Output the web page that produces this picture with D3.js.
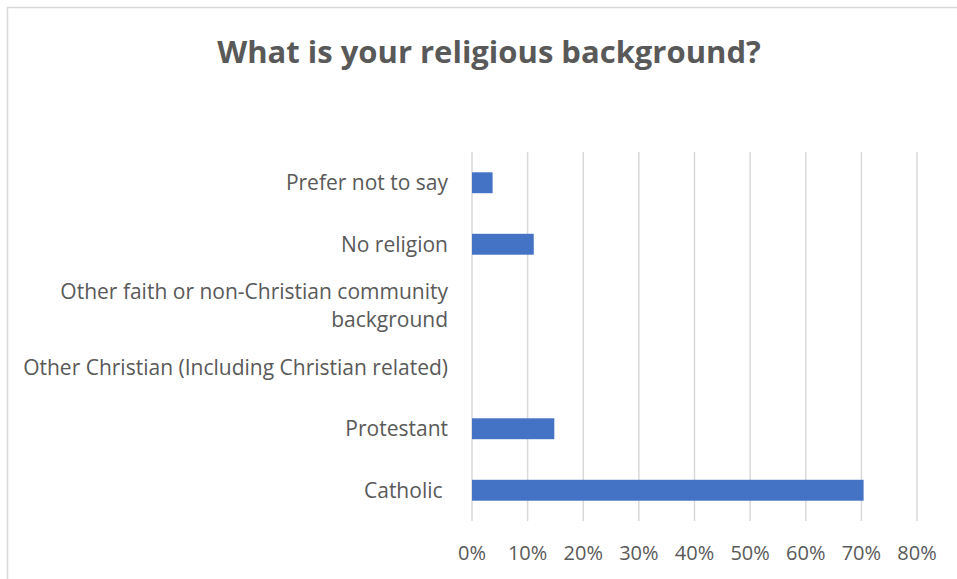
<!DOCTYPE html>
<html>
<head>
<meta charset="utf-8">
<script src="https://cdn.jsdelivr.net/npm/d3@7"></script>
<style>
  body { margin: 0; background: #fff; }
  text { font-family: "Open Sans", sans-serif; fill: #595959; }
</style>
</head>
<body>
<svg id="chart" width="957" height="579"></svg>
<script>
// survey answers, top of chart first
const categories = [
  "Prefer not to say",
  "No religion",
  "Other faith or non-Christian community background",
  "Other Christian (Including Christian related)",
  "Protestant",
  "Catholic "
];
const values = [0.037, 0.111, 0, 0, 0.148, 0.704];
const xTicks = [0, 0.1, 0.2, 0.3, 0.4, 0.5, 0.6, 0.7, 0.8];
const title = "What is your religious background?";

const svg = d3.select("#chart");

// outer chart border (cropped on right/bottom like the source)
svg.append("rect")
  .attr("x", 7.5).attr("y", 7.5)
  .attr("width", 980).attr("height", 600)
  .attr("fill", "none")
  .attr("stroke", "#d9d9d9")
  .attr("stroke-width", 1.5);

svg.append("text")
  .attr("x", 489).attr("y", 63)
  .attr("text-anchor", "middle")
  .style("font-size", "31px")
  .style("font-weight", "bold")
  .text(title);

const x = d3.scaleLinear().domain([0, 0.8]).range([472, 917]);
const y = d3.scaleBand()
  .domain(categories)
  .range([152, 521])
  .paddingInner(0.66)
  .paddingOuter(0.33);

// vertical gridlines
svg.append("g")
  .selectAll("line")
  .data(xTicks)
  .join("line")
  .attr("x1", d => x(d)).attr("x2", d => x(d))
  .attr("y1", 152).attr("y2", 521)
  .attr("stroke", "#d9d9d9")
  .attr("stroke-width", 1.5);

// x tick labels
svg.append("g")
  .selectAll("text")
  .data(xTicks)
  .join("text")
  .attr("x", d => x(d))
  .attr("y", 560)
  .attr("text-anchor", "middle")
  .style("font-size", "20px")
  .text(d3.format(".0%"));

// bars
svg.append("g")
  .selectAll("rect")
  .data(values)
  .join("rect")
  .attr("x", x(0))
  .attr("y", (d, i) => y(categories[i]))
  .attr("width", d => x(d) - x(0))
  .attr("height", y.bandwidth())
  .attr("fill", "#4472c4");

// category labels, wrapped when too long
const labelG = svg.append("g");
categories.forEach(c => {
  const cy = y(c) + y.bandwidth() / 2;
  const t = labelG.append("text")
    .attr("x", 448)
    .attr("text-anchor", "end")
    .style("white-space", "pre")
    .style("font-size", "21px");
  const words = c.split(" ");
  let lines = [], line = [];
  const probe = labelG.append("text").style("font-size", "21px");
  words.forEach(w => {
    line.push(w);
    probe.text(line.join(" "));
    if (probe.node().getComputedTextLength() > 440 && line.length > 1) {
      line.pop();
      lines.push(line.join(" "));
      line = [w];
    }
  });
  lines.push(line.join(" "));
  probe.remove();
  const lh = 28;
  lines.forEach((l, k) => {
    t.append("tspan")
      .attr("x", 448)
      .attr("y", cy + (k - (lines.length - 1) / 2) * lh)
      .attr("dy", "0.35em")
      .text(l);
  });
});
</script>
</body>
</html>
